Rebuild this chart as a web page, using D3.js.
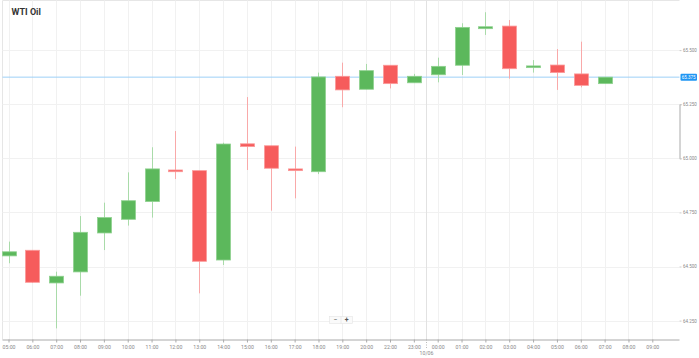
<!DOCTYPE html>
<html><head><meta charset="utf-8">
<script src="https://cdn.jsdelivr.net/npm/d3@7"></script>
<style>
html,body{margin:0;padding:0;background:#fff;}
svg{display:block;font-family:Roboto,"Open Sans",Arial,sans-serif;}
</style></head>
<body><svg id="c" width="699" height="358"></svg>
<script>
const title = "WTI Oil";
const categories = ["05:00","06:00","07:00","08:00","09:00","10:00","11:00","12:00","13:00","14:00","15:00","16:00","17:00","18:00","19:00","20:00","22:00","23:00","00:00","01:00","02:00","03:00","04:00","05:00 ","06:00 ","07:00 ","08:00 ","09:00 "];
const openVals  = [64.549,64.575,64.424,64.475,64.655,64.718,64.800,64.946,64.943,64.530,65.067,65.058,64.951,64.938,65.379,65.319,65.430,65.349,65.386,65.430,65.599,65.611,65.419,65.431,65.390,65.345];
const highVals  = [64.615,64.575,64.476,64.733,64.795,64.935,65.051,65.126,64.943,65.072,65.283,65.058,65.054,65.396,65.442,65.436,65.430,65.390,65.465,65.624,65.675,65.639,65.454,65.505,65.539,65.375];
const lowVals   = [64.515,64.424,64.214,64.365,64.576,64.689,64.726,64.904,64.376,64.507,64.946,64.758,64.815,64.927,65.236,65.319,65.323,65.349,65.351,65.385,65.570,65.368,65.396,65.316,65.328,65.345];
const closeVals = [64.568,64.427,64.455,64.658,64.726,64.804,64.951,64.938,64.524,65.066,65.054,64.954,64.943,65.376,65.316,65.405,65.345,65.379,65.425,65.605,65.608,65.414,65.427,65.396,65.337,65.375];
const yTicks = [64.25,64.5,64.75,65.0,65.25,65.5];
const currentPrice = 65.375;
const dayLabel = "10/06";
const dayBreakAfter = "23:00";

const svg = d3.select("#c");
const pL = 2.5, pR = 679.5, pT = 0.5, pB = 339.5;

const x = d3.scalePoint().domain(categories).range([8.5, 652.3]);
const y = d3.scaleLinear().domain([65.0, 65.25]).range([158.3, 104.2]);

// frame
svg.append("line").attr("x1",pL).attr("x2",pR).attr("y1",pT).attr("y2",pT).attr("stroke","#e6e6e6");
svg.append("line").attr("x1",pL).attr("x2",pL).attr("y1",pT).attr("y2",pB).attr("stroke","#e6e6e6");

// grid
const g = svg.append("g");
g.selectAll(".vg").data(categories).join("line")
  .attr("x1",d=>Math.round(x(d))+0.5).attr("x2",d=>Math.round(x(d))+0.5)
  .attr("y1",pT).attr("y2",pB).attr("stroke","#f1f1f1");
g.selectAll(".hg").data(yTicks).join("line")
  .attr("x1",pL).attr("x2",pR)
  .attr("y1",d=>Math.round(y(d))+0.5).attr("y2",d=>Math.round(y(d))+0.5).attr("stroke","#f1f1f1");

// day separator
const sepX = Math.round((x(dayBreakAfter)+x("00:00"))/2)+0.5;
svg.append("line").attr("x1",sepX).attr("x2",sepX).attr("y1",pT).attr("y2",pB).attr("stroke","#e2e2e2");
svg.append("line").attr("x1",sepX).attr("x2",sepX).attr("y1",pB).attr("y2",pB+9)
  .attr("stroke","#bbb").attr("stroke-dasharray","1,1.5");
svg.append("text").attr("x",sepX).attr("y",354.5).attr("text-anchor","middle")
  .attr("font-size","5.2px").attr("fill","#888").text(dayLabel);

// current price line
svg.append("line").attr("x1",pL).attr("x2",pR).attr("y1",y(currentPrice)).attr("y2",y(currentPrice))
  .attr("stroke","#9ed0f7").attr("stroke-width",1);

// candles
const candles = openVals.map((o,i)=>({cat:categories[i],o,h:highVals[i],l:lowVals[i],c:closeVals[i]}));
const bw = 14;
const cg = svg.append("g");
cg.selectAll(".wick").data(candles).join("line")
  .attr("x1",d=>Math.round(x(d.cat))+0.5).attr("x2",d=>Math.round(x(d.cat))+0.5)
  .attr("y1",d=>y(d.h)).attr("y2",d=>y(d.l))
  .attr("stroke",d=>d.c>=d.o?"#a9dba9":"#f9a9a9").attr("stroke-width",1);
cg.selectAll(".body").data(candles).join("rect")
  .attr("x",d=>Math.round(x(d.cat))+0.5-bw/2)
  .attr("width",bw)
  .attr("y",d=>y(Math.max(d.o,d.c)))
  .attr("height",d=>Math.max(1.5,Math.abs(y(d.o)-y(d.c))))
  .attr("fill",d=>d.c>=d.o?"#5cb85c":"#f65c5c")
  .attr("stroke",d=>d.c>=d.o?"#8fd18f":"#fb9a9a").attr("stroke-width",0.8);

// axes
const ya = svg.append("g").attr("transform",`translate(${pR},0)`)
  .call(d3.axisRight(y).tickValues(yTicks).tickSize(2).tickPadding(1.5).tickFormat(d3.format(".3f")));
ya.select(".domain").attr("stroke","#aaa");
ya.selectAll(".tick line").attr("stroke","#ccc");
ya.selectAll("text").attr("font-size","4.5px").attr("fill","#888").attr("font-family","Roboto,Arial,sans-serif");

const xa = svg.append("g").attr("transform",`translate(0,${pB})`)
  .call(d3.axisBottom(x).tickSize(3).tickPadding(3).tickFormat(d=>d.trim()));
xa.select(".domain").attr("stroke","#aaa").attr("d",`M${pL},0.5H${pR}`);
xa.selectAll(".tick line").attr("stroke","#aaa");
xa.selectAll("text").attr("font-size","5.2px").attr("fill","#888").attr("font-family","Roboto,Arial,sans-serif");

// current price label
const cy = y(currentPrice);
svg.append("rect").attr("x",680.5).attr("y",cy-3.5).attr("width",16.5).attr("height",7).attr("rx",1)
  .attr("fill","#2196f3");
svg.append("text").attr("x",688.7).attr("y",cy+1.7).attr("text-anchor","middle")
  .attr("font-size","4.5px").attr("fill","#fff").text(d3.format(".3f")(currentPrice));

// title
svg.append("text").attr("x",11.5).attr("y",15).attr("font-size","9px").attr("font-weight","bold")
  .attr("fill","#333").text(title);

// zoom buttons
const zb = svg.append("g").attr("transform","translate(329.5,316.5)");
zb.append("rect").attr("width",23).attr("height",7).attr("fill","#fafafa").attr("stroke","#e4e4e4").attr("stroke-width",0.6);
zb.append("line").attr("x1",11.5).attr("x2",11.5).attr("y1",0).attr("y2",7).attr("stroke","#e4e4e4").attr("stroke-width",0.6);
zb.append("text").attr("x",5.75).attr("y",5.6).attr("text-anchor","middle").attr("font-size","7px").attr("fill","#555").text("−");
zb.append("text").attr("x",17.25).attr("y",5.8).attr("text-anchor","middle").attr("font-size","7px").attr("font-weight","bold").attr("fill","#555").text("+");
</script></body></html>
